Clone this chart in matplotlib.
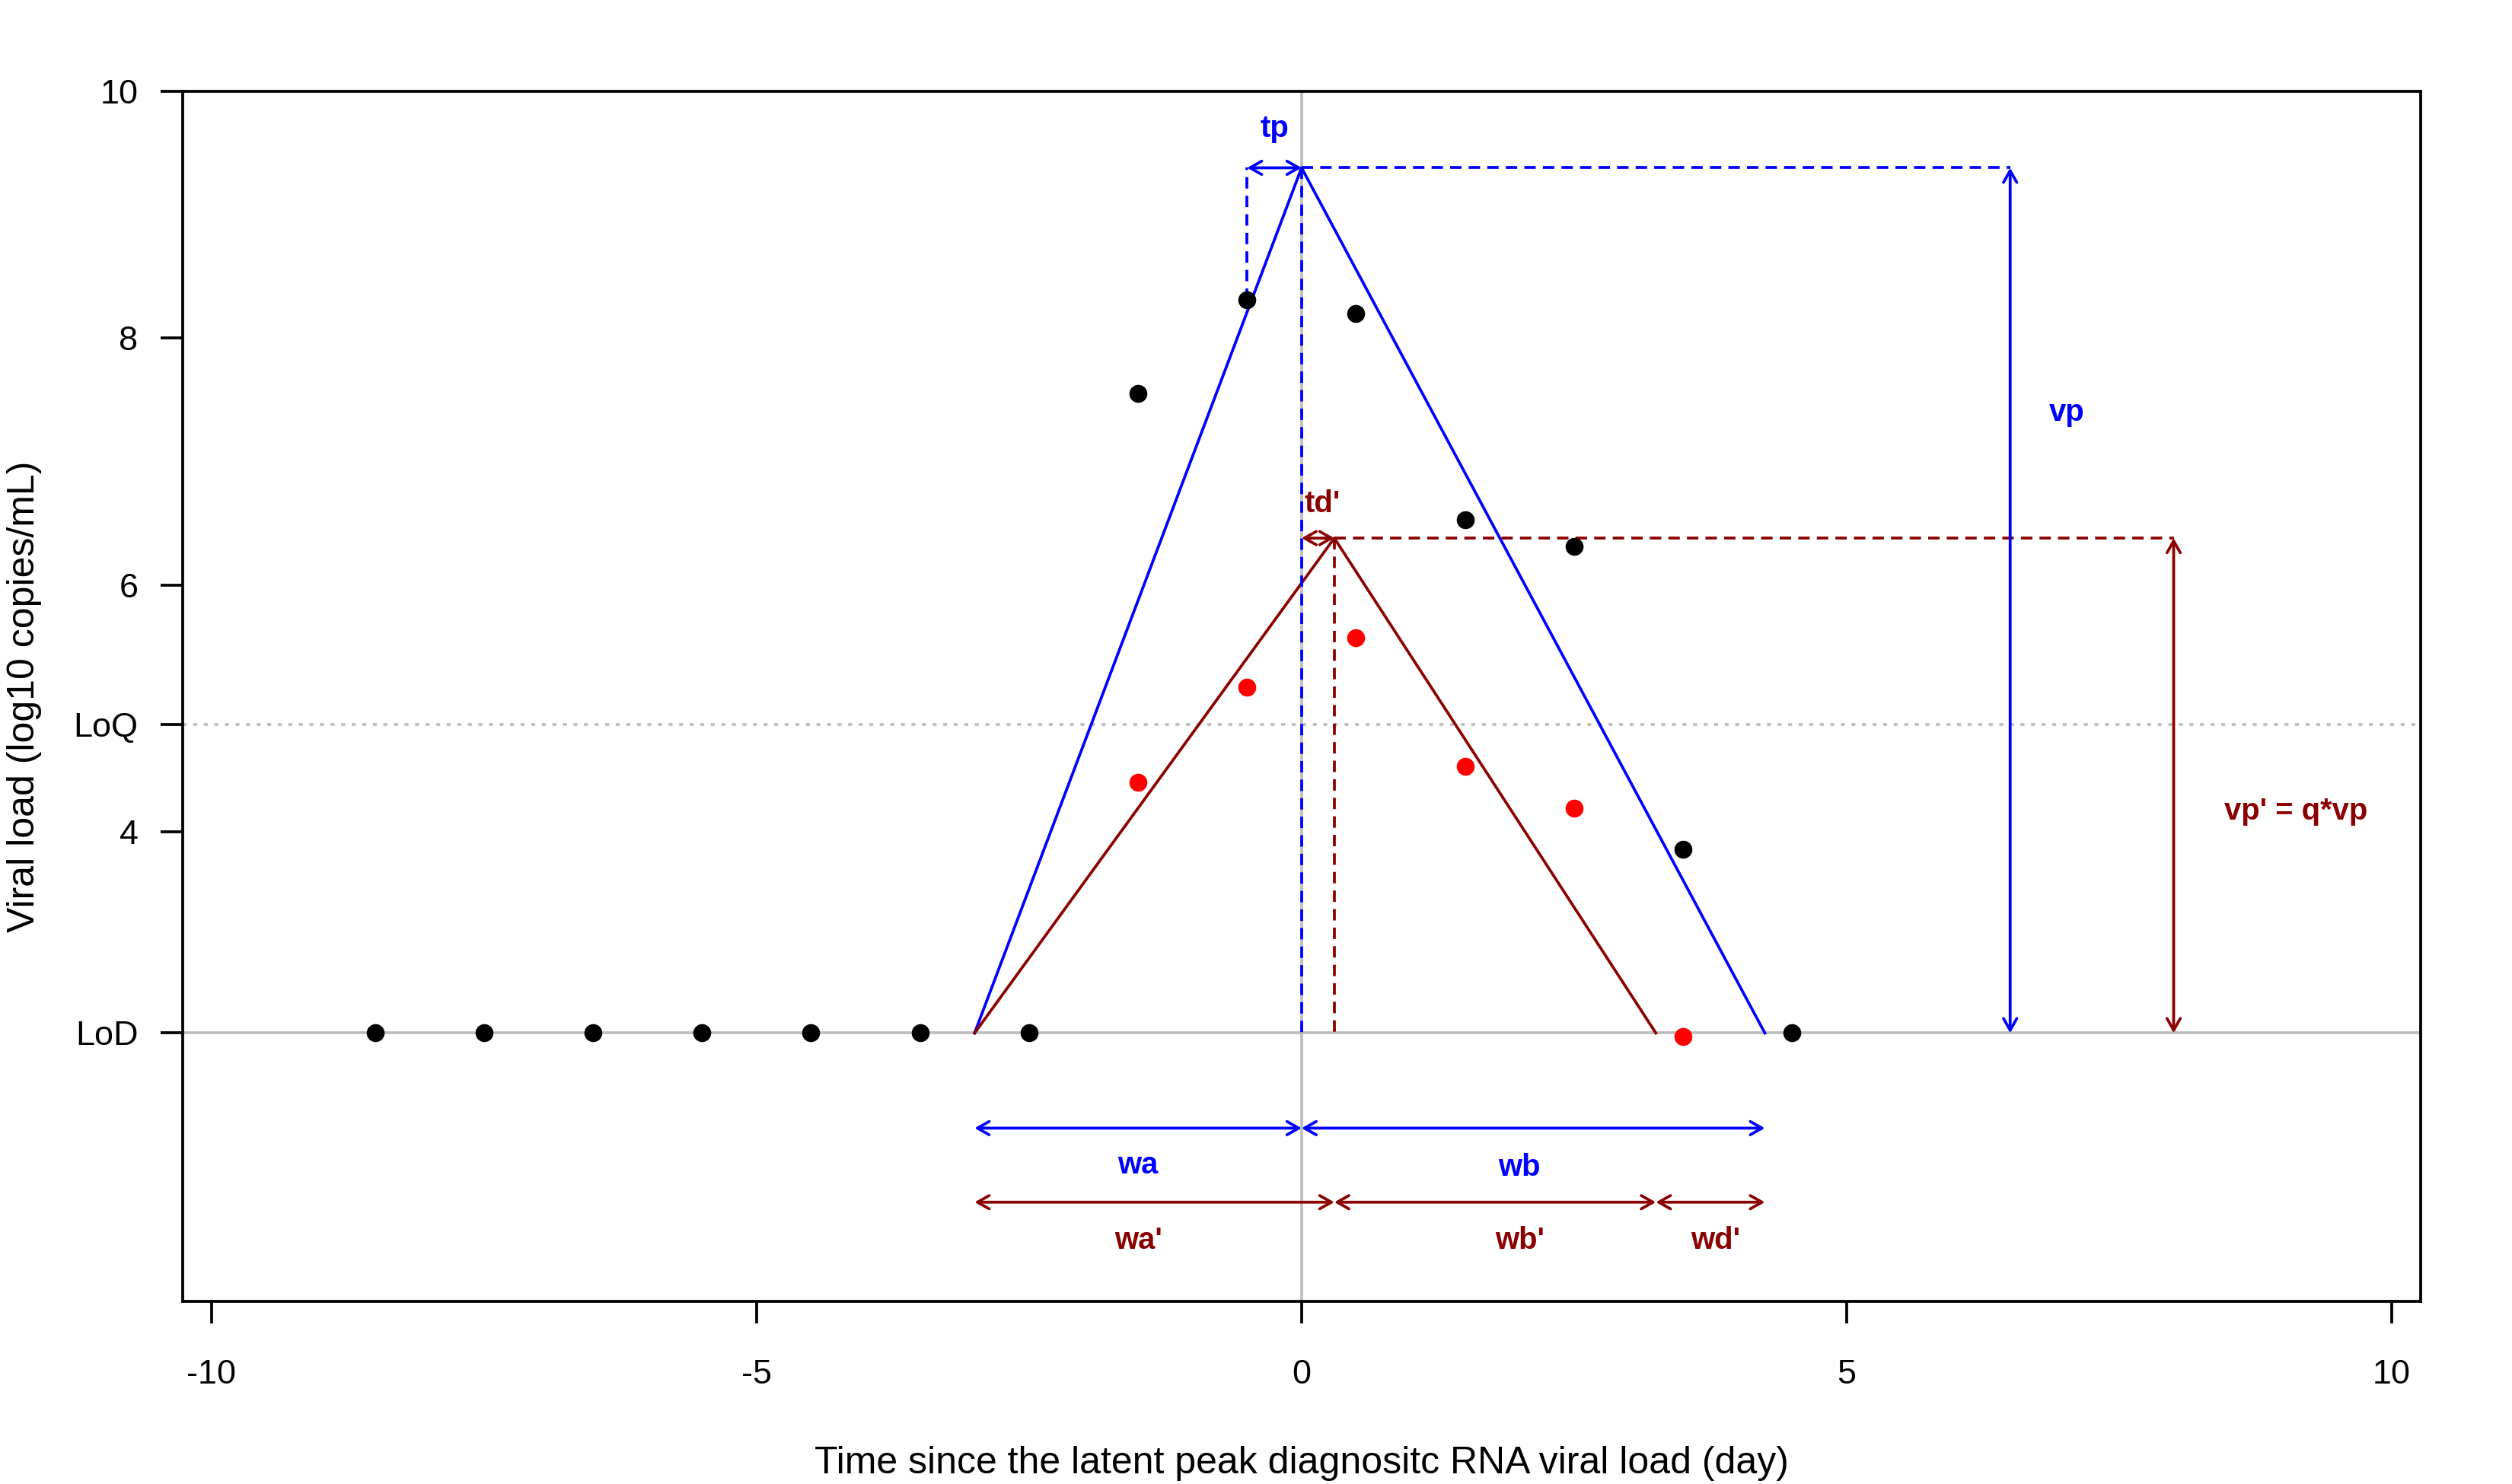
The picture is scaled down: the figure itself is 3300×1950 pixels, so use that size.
import numpy as np
import matplotlib
matplotlib.use("Agg")
import matplotlib.pyplot as plt
from matplotlib.patches import FancyArrowPatch

plt.rcParams['font.family'] = ['Liberation Sans', 'DejaVu Sans']

# limits of detection / quantification (log10 copies/mL)
LoD = 2.37
LoQ = 4.87

# observed viral loads
days = [-8.5, -7.5, -6.5, -5.5, -4.5, -3.5, -2.5, -1.5, -0.5, 0.5, 1.5, 2.5, 3.5, 4.5]
vl_obs = [LoD, LoD, LoD, LoD, LoD, LoD, LoD, 7.55, 8.31, 8.20, 6.53, 6.31, 3.86, LoD]
days_red = [-1.5, -0.5, 0.5, 1.5, 2.5, 3.5]
vl_red = [4.40, 5.17, 5.57, 4.53, 4.19, 2.34]

# piecewise linear curves (onset, peak, end)
blue_t = [-3.0, 0.0, 4.25]
blue_v = [LoD, 9.38, LoD]
red_t = [-3.0, 0.3, 3.25]
red_v = [LoD, 6.38, LoD]

tp_start = -0.5
vp_x = 6.5
vpq_x = 8.0

BLUE = '#0000FF'
DRED = '#8B0000'
GREY = '#BEBEBE'
LW = 0.9
DASH = (4.0, 2.5)

fig = plt.figure(figsize=(11, 6.5), dpi=300)
ax = fig.add_axes([0.0727, 0.1231, 0.8909, 0.8154])
ax.set_xlim(-10.265, 10.265)
ax.set_ylim(0.197, 10)

# reference lines
ax.axhline(LoD, color=GREY, lw=LW, zorder=1)
ax.axhline(LoQ, color=GREY, lw=LW, linestyle=(0, (1.4, 2.3)), zorder=1)
ax.axvline(0, color=GREY, lw=LW, zorder=1)


def arrow(p0, p1, color):
    a = FancyArrowPatch(p0, p1, arrowstyle='<->,head_length=3.7,head_width=2.1',
                        mutation_scale=1, color=color, lw=LW,
                        shrinkA=0, shrinkB=0, zorder=3)
    ax.add_patch(a)


# model curves
ax.plot(blue_t, blue_v, color=BLUE, lw=LW, zorder=2)
ax.plot(red_t, red_v, color=DRED, lw=LW, zorder=2)

# dashed guides
ax.plot([tp_start, tp_start], [vl_obs[8], blue_v[1]], color=BLUE, lw=LW, dashes=DASH)
ax.plot([blue_t[1], blue_t[1]], [blue_v[1], LoD], color=BLUE, lw=LW, dashes=DASH)
ax.plot([blue_t[1], vp_x], [blue_v[1], blue_v[1]], color=BLUE, lw=LW, dashes=DASH)
ax.plot([red_t[1], red_t[1]], [red_v[1], LoD], color=DRED, lw=LW, dashes=DASH)
ax.plot([red_t[1], vpq_x], [red_v[1], red_v[1]], color=DRED, lw=LW, dashes=DASH)

# arrows
arrow((tp_start, blue_v[1]), (blue_t[1], blue_v[1]), BLUE)
arrow((vp_x, LoD), (vp_x, blue_v[1]), BLUE)
arrow((0, red_v[1]), (red_t[1], red_v[1]), DRED)
arrow((vpq_x, LoD), (vpq_x, red_v[1]), DRED)

y_blue, y_red = 1.6, 1.0
arrow((blue_t[0], y_blue), (blue_t[1], y_blue), BLUE)
arrow((blue_t[1], y_blue), (blue_t[2], y_blue), BLUE)
arrow((red_t[0], y_red), (red_t[1], y_red), DRED)
arrow((red_t[1], y_red), (red_t[2], y_red), DRED)
arrow((red_t[2], y_red), (blue_t[2], y_red), DRED)

# observations
ax.scatter(days, vl_obs, s=32, color='black', zorder=4, linewidths=0)
ax.scatter(days_red, vl_red, s=32, color='#FF0000', zorder=4, linewidths=0)

# annotations
fs = 9.6
kw = dict(ha='center', va='center', fontsize=fs, fontweight='bold')
ax.text(-0.25, 9.70, 'tp', color=BLUE, **kw)
ax.text(7.02, 7.40, 'vp', color=BLUE, **kw)
ax.text(0.19, 6.66, "td'", color=DRED, **kw)
ax.text(9.12, 4.17, "vp' = q*vp", color=DRED, **kw)
ax.text(-1.5, 1.30, 'wa', color=BLUE, **kw)
ax.text(2.0, 1.28, 'wb', color=BLUE, **kw)
ax.text(-1.5, 0.69, "wa'", color=DRED, **kw)
ax.text(2.0, 0.69, "wb'", color=DRED, **kw)
ax.text(3.8, 0.69, "wd'", color=DRED, **kw)

# axes styling
for s in ax.spines.values():
    s.set_linewidth(LW)
ax.set_xticks([-10, -5, 0, 5, 10])
ax.set_xticklabels(['-10', '-5', '0', '5', '10'])
ax.set_yticks([LoD, 4, LoQ, 6, 8, 10])
ax.set_yticklabels(['LoD', '4', 'LoQ', '6', '8', '10'])
ax.tick_params(axis='both', direction='out', length=7, width=LW, labelsize=10.8)
ax.tick_params(axis='x', pad=11.3)
ax.tick_params(axis='y', pad=7)

ax.set_xlabel('Time since the latent peak diagnositc RNA viral load (day)', fontsize=12,
              va='center')
ax.xaxis.set_label_coords(0.5, -0.134)
ax.set_ylabel('Viral load (log10 copies/mL)', fontsize=12, va='center')
ax.yaxis.set_label_coords(-0.0707, 0.5)

fig.savefig('out.png', dpi=300)
